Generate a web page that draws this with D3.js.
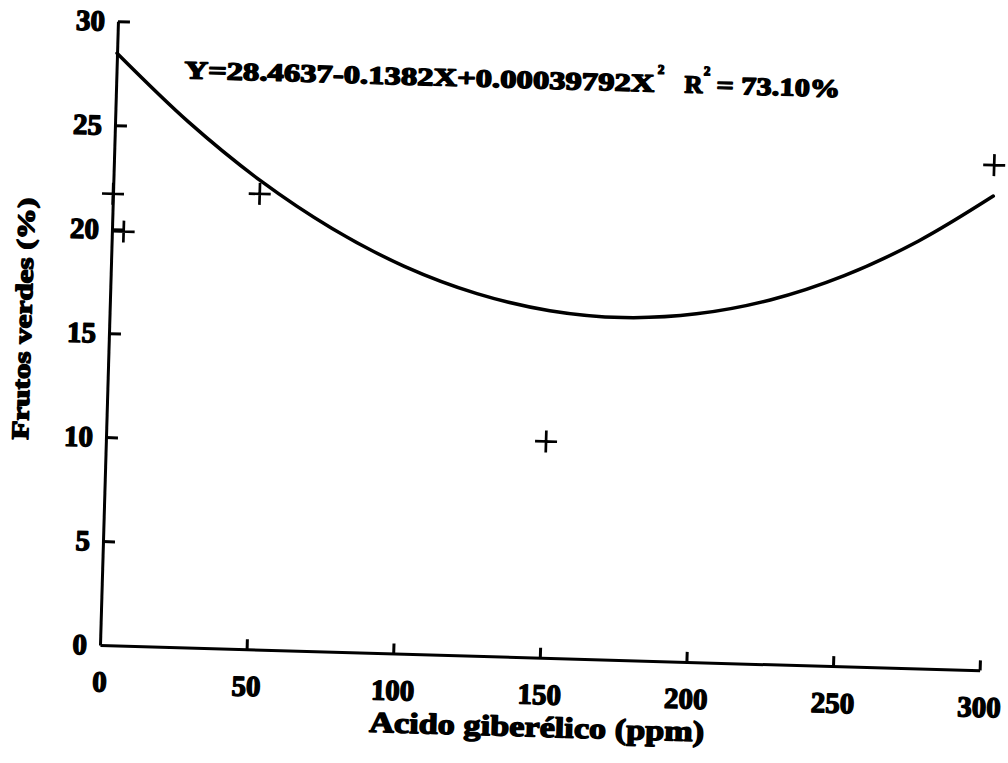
<!DOCTYPE html>
<html>
<head>
<meta charset="utf-8">
<script src="https://cdn.jsdelivr.net/npm/d3@7"></script>
<style>
  body { margin: 0; background: #fff; }
  svg text { font-family: "Liberation Serif", "DejaVu Serif", serif; font-weight: bold; fill: #000; stroke: #000; stroke-width: 1.4px; stroke-linejoin: round; }
  .axis path, .axis line { stroke: #000; stroke-width: 3px; }
</style>
</head>
<body>
<div id="chart"></div>
<script>
// observed points (ppm, % green fruit)
const obsX = [0, 4, 50, 150, 300];
const obsY = [21.7, 19.9, 21.9, 10.4, 24.3];

// fitted curve, every 25 ppm
const fitX = [0, 25, 50, 75, 100, 125, 150, 175, 200, 225, 250, 275, 300];
const fitY = [28.46, 25.26, 22.55, 20.34, 18.62, 17.41, 16.69, 16.46, 16.74, 17.51, 18.78, 20.55, 22.81];

const xTicks = [0, 50, 100, 150, 200, 250, 300];
const yTicks = [0, 5, 10, 15, 20, 25, 30];

const W = 1008, H = 763;
const origin = { x: 100, y: 645 };
const width = 880, height = 624;
const tilt = 1.65; // the scanned page sits slightly skewed

const x = d3.scaleLinear().domain([0, 300]).range([0, width]);
const y = d3.scaleLinear().domain([0, 30]).range([0, -height]);

const svg = d3.select('#chart').append('svg')
  .attr('width', W)
  .attr('height', H);

const plot = svg.append('g')
  .attr('transform', `translate(${origin.x},${origin.y}) rotate(${tilt})`);

const xAxis = d3.axisBottom(x)
  .tickValues(xTicks)
  .tickSize(-10)
  .tickSizeOuter(0)
  .tickPadding(26)
  .tickFormat(d3.format('d'));

const yAxis = d3.axisLeft(y)
  .tickValues(yTicks)
  .tickSize(-12)
  .tickSizeOuter(0)
  .tickPadding(13)
  .tickFormat(d3.format('d'));

const gx = plot.append('g').attr('class', 'axis x').call(xAxis);
const gy = plot.append('g').attr('class', 'axis y').call(yAxis);

gx.select('.domain').attr('stroke-width', 2.5);
gx.selectAll('text').style('font-size', '29px').attr('dy', '0.71em');
gy.selectAll('text').style('font-size', '29px');
gx.selectAll('.tick').filter((d) => d === 0).select('line').remove();
gy.selectAll('.tick').filter((d) => d === 0).select('line').remove();

// fitted curve
const line = d3.line()
  .x((d, i) => x(fitX[i]))
  .y((d) => y(d))
  .curve(d3.curveCatmullRom);

plot.append('path')
  .attr('d', line(fitY))
  .attr('fill', 'none')
  .attr('stroke', '#000')
  .attr('stroke-width', 3.5)
  .attr('stroke-linecap', 'round');

// observed points as "+"
plot.selectAll('path.pt')
  .data(obsY)
  .join('path')
  .attr('class', 'pt')
  .attr('transform', (d, i) => `translate(${x(obsX[i])},${y(d)})`)
  .attr('d', 'M-11,0H11M0,-11V11')
  .attr('stroke', '#000')
  .attr('stroke-width', 2.7)
  .attr('fill', 'none');

// equation
const eq = plot.append('text')
  .attr('x', 68)
  .attr('y', -569)
  .style('font-size', '25px');
eq.append('tspan').text('Y=28.4637-0.1382X+0.00039792X').attr('textLength', 470).attr('lengthAdjust', 'spacingAndGlyphs');
eq.append('tspan').text('2').attr('dy', -18).attr('dx', 3).style('font-size', '13px');
eq.append('tspan').text('R').attr('x', 568).attr('dy', 18);
eq.append('tspan').text('2').attr('dy', -18).attr('dx', 1).style('font-size', '13px');
eq.append('tspan').text('= 73.10%').attr('x', 600).attr('dy', 18).attr('textLength', 124).attr('lengthAdjust', 'spacingAndGlyphs');

// axis titles
plot.append('text')
  .attr('transform', 'translate(-78,-324) rotate(-90)')
  .attr('text-anchor', 'middle')
  .attr('textLength', 242)
  .attr('lengthAdjust', 'spacingAndGlyphs')
  .style('font-size', '24px')
  .text('Frutos verdes (%)');

plot.append('text')
  .attr('x', 439)
  .attr('y', 79)
  .attr('text-anchor', 'middle')
  .attr('textLength', 335)
  .attr('lengthAdjust', 'spacingAndGlyphs')
  .style('font-size', '29px')
  .text('Acido giberélico (ppm)');
</script>
</body>
</html>
